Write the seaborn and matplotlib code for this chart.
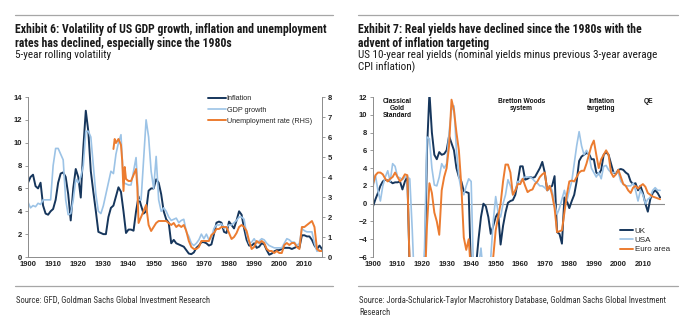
import numpy as np
import pandas as pd
import seaborn as sns
import matplotlib.pyplot as plt
from matplotlib.lines import Line2D

sns.set_style("white")
plt.rcParams['font.family'] = ['Liberation Sans', 'DejaVu Sans']

NAVY = "#16365c"
LIGHT = "#9cc3e6"
ORANGE = "#ec7c30"
GREY = "#8c8c8c"

years = list(range(1900, 2018))

# 5-year rolling volatility, LHS
inflation = [6.5, 7.0, 7.2, 6.2, 6.0, 6.5, 4.5, 3.8, 3.7, 4.0,
             4.2, 5.0, 6.5, 7.3, 7.4, 7.0, 5.5, 3.2, 6.0, 7.7,
             7.0, 5.2, 9.5, 12.8, 11.0, 7.5, 5.7, 4.0, 2.2, 2.1,
             2.0, 2.0, 3.5, 4.3, 4.5, 5.3, 6.1, 5.7, 4.0, 2.1,
             2.4, 2.4, 2.3, 4.0, 5.3, 4.5, 3.8, 4.0, 5.8, 6.0,
             6.0, 6.8, 6.5, 5.5, 4.0, 3.3, 3.0, 1.2, 1.5, 1.2,
             1.1, 1.0, 0.9, 0.6, 0.3, 0.25, 0.4, 0.8, 1.0, 1.3,
             1.3, 1.2, 1.0, 1.1, 2.0, 3.0, 3.1, 3.0, 2.2, 2.1,
             3.1, 2.8, 2.5, 3.2, 4.0, 3.7, 2.5, 1.5, 1.0, 1.0,
             1.2, 0.8, 0.9, 1.2, 1.1, 0.6, 0.2, 0.3, 0.5, 0.6,
             0.6, 0.7, 0.8, 0.8, 0.8, 0.7, 0.8, 0.9, 0.8, 1.9,
             1.9, 1.8, 1.8, 1.5, 1.0, 0.7, 1.0, 0.7]

gdp_growth = [4.8, 4.3, 4.5, 4.4, 4.7, 4.6, 5.0, 5.0, 5.0, 5.0,
              8.0, 9.5, 9.5, 9.0, 8.5, 5.0, 3.7, 3.8, 5.0, 6.8,
              6.5, 7.0, 8.0, 11.0, 11.0, 10.5, 8.0, 5.5, 4.0, 3.8,
              4.5, 5.5, 6.5, 7.5, 7.3, 9.0, 10.0, 10.7, 6.5, 6.4,
              6.3, 6.3, 7.5, 8.7, 5.0, 5.0, 8.5, 12.0, 10.5, 7.5,
              6.0, 8.8, 5.0, 4.0, 4.3, 4.0, 3.5, 3.2, 3.3, 3.4,
              3.0, 3.2, 3.3, 2.2, 1.8, 1.2, 1.0, 1.2, 1.5, 2.0,
              1.6, 2.0, 1.5, 1.7, 2.5, 2.8, 2.8, 2.9, 2.5, 2.6,
              2.8, 2.8, 3.0, 3.2, 3.5, 3.5, 3.3, 2.0, 1.2, 1.3,
              1.6, 1.2, 1.4, 1.6, 1.5, 1.2, 1.0, 0.9, 0.8, 0.8,
              0.8, 0.8, 1.2, 1.6, 1.5, 1.3, 1.3, 1.0, 1.2, 2.5,
              2.3, 2.2, 2.2, 2.2, 1.2, 0.5, 0.6, 0.5]

# unemployment rate volatility, RHS
unemp_years = [1934, 1934.5, 1935, 1936, 1937, 1937.5, 1938, 1938.5, 1939, 1940,
               1941, 1942, 1943, 1943.5, 1944, 1945, 1946, 1947, 1948, 1949,
               1950, 1951, 1952, 1953, 1954, 1955, 1956, 1957, 1958, 1959,
               1960, 1961, 1962, 1963, 1964, 1965, 1966, 1967, 1968, 1969,
               1970, 1971, 1972, 1973, 1974, 1975, 1976, 1977, 1978, 1979,
               1980, 1981, 1982, 1983, 1984, 1985, 1986, 1987, 1988, 1989,
               1990, 1991, 1992, 1993, 1994, 1995, 1996, 1997, 1998, 1999,
               2000, 2001, 2002, 2003, 2004, 2005, 2006, 2007, 2008, 2009,
               2010, 2011, 2012, 2013, 2014, 2015, 2016, 2017]
unemployment = [5.4, 5.9, 5.7, 5.9, 5.6, 4.8, 3.3, 4.5, 3.9, 3.8,
                3.8, 4.1, 4.4, 3.5, 1.7, 2.0, 2.3, 2.6, 1.6, 1.3,
                1.5, 1.7, 1.8, 1.8, 1.8, 1.8, 1.7, 1.6, 1.7, 1.5,
                1.6, 1.5, 1.6, 1.3, 0.8, 0.5, 0.4, 0.4, 0.5, 0.8,
                0.8, 0.8, 0.8, 1.1, 1.2, 1.4, 1.4, 1.5, 1.5, 1.5,
                1.2, 0.9, 1.0, 1.2, 1.5, 1.6, 1.5, 1.3, 0.8, 0.4,
                0.5, 0.8, 0.7, 0.8, 0.7, 0.4, 0.3, 0.3, 0.2, 0.3,
                0.2, 0.2, 0.6, 0.7, 0.6, 0.7, 0.7, 0.5, 0.4, 1.5,
                1.5, 1.6, 1.7, 1.8, 1.5, 0.4, 0.3, 0.3]

# 10-year real yields (%)
uk = [-0.3, 0.5, 1.2, 2.0, 2.5, 2.7, 2.6, 2.5, 2.3, 2.4,
      2.4, 2.5, 1.6, 2.5, 3.0, -8.0, -10.0, -10.0, -10.0, -10.0,
      -10.0, -9.0, 6.0, 12.5, 8.0, 5.5, 5.0, 5.8, 5.5, 5.6,
      6.0, 7.6, 6.8, 6.0, 4.0, 3.0, 2.5, 1.4, 1.3, 1.2,
      -8.0, -10.0, -7.0, -4.0, -1.5, 0.0, -0.3, -1.5, -3.4, -2.5,
      -1.5, -1.0, -4.6, -2.5, -1.0, 0.1, 0.3, 0.4, 1.0, 2.5,
      4.2, 4.2, 2.7, 2.8, 3.0, 2.9, 3.0, 3.5, 4.0, 4.7,
      3.5, 1.5, 1.8, 2.0, 3.1, -3.2, -3.4, -4.5, 0.7, 0.3,
      -0.5, 0.3, 1.0, 2.5, 4.8, 5.3, 5.5, 5.7, 5.6, 5.0,
      5.0, 3.5, 3.3, 3.8, 5.5, 5.8, 5.5, 4.5, 3.5, 3.4,
      3.8, 3.9, 3.8, 3.5, 3.3, 2.5, 2.2, 2.3, 1.5, 2.0,
      1.2, 0.0, -0.9, 0.5, 1.2, 1.5, 1.2, 0.7]

usa = [1.9, 3.2, 1.5, 0.3, 2.0, 3.0, 3.7, 2.5, 4.5, 4.2,
       3.0, 2.9, 2.7, 3.0, 3.0, 2.8, -3.0, -10.0, -10.0, -10.0,
       -10.0, -5.0, 7.5, 7.3, 4.0, 2.1, 2.0, 3.0, 4.5, 4.0,
       4.5, 8.0, 10.5, 11.0, 6.0, 3.0, 1.5, 1.0, 2.0, 2.8,
       2.5, -8.0, -10.0, -7.0, -5.0, -8.0, -10.0, -10.0, -6.0, -2.0,
       0.8, -1.0, -1.5, 0.0, 1.0, 2.7, 2.0, 1.0, 1.5, 2.5,
       2.5, 2.8, 3.0, 3.0, 3.0, 2.8, 2.5, 2.3, 2.0, 2.0,
       1.8, 1.5, 2.0, 1.5, 0.0, -1.2, -0.5, 0.5, 1.5, 0.3,
       1.5, 2.5, 4.5, 6.5, 8.1, 6.5, 5.5, 6.0, 5.5, 4.0,
       3.5, 3.0, 3.5, 2.8, 4.2, 4.3, 3.8, 3.5, 3.5, 3.5,
       3.5, 2.5, 2.2, 2.0, 2.0, 2.0, 2.3, 1.5, 0.3, 1.5,
       1.0, 0.0, 0.5, 0.7, 1.5, 1.8, 1.5, 1.5]

euro_area = [2.2, 3.2, 3.5, 3.5, 3.3, 2.8, 2.5, 2.8, 3.0, 3.5,
             3.0, 2.5, 2.8, 3.3, 3.2, -8.0, -10.0, -10.0, -10.0, -10.0,
             -10.0, -10.0, -2.5, 2.3, 1.2, -1.0, -2.0, -3.5, 1.5, 3.0,
             4.0, 6.5, 11.7, 10.5, 8.0, 6.0, 2.0, -3.8, -5.2, -4.0,
             -8.0, -10.0, -10.0, -10.0, -10.0, -10.0, -10.0, -10.0, -10.0, -6.0,
             -3.0, -1.5, 0.0, 2.5, 4.4, 4.4, 3.5, 1.0, 1.5, 2.2,
             2.2, 2.8, 2.0, 1.3, 1.5, 1.6, 2.2, 2.5, 3.0, 3.3,
             3.5, 1.5, 2.0, 1.0, -0.5, -3.2, -3.1, -3.0, -1.0, 1.0,
             2.5, 2.6, 2.5, 3.0, 3.5, 3.7, 3.7, 4.5, 5.5, 6.5,
             7.1, 5.5, 4.0, 5.0, 5.5, 6.0, 5.5, 3.5, 3.0, 3.3,
             3.8, 3.0, 2.2, 2.0, 1.5, 1.2, 1.8, 2.0, 1.7, 2.0,
             2.2, 1.9, 1.2, 1.0, 0.8, 0.7, 0.6, 0.5]

decades = list(range(1900, 2011, 10))

W, H = 693, 322
fig = plt.figure(figsize=(W / 100, H / 100), dpi=100)


def fx(x):
    return x / W


def fy(y):
    return 1 - y / H


def style_axis(ax, color=GREY):
    ax.tick_params(axis='both', which='major', length=2.5, width=0.6,
                   color=color, pad=1.5, labelsize=5.5)
    for lab in ax.get_xticklabels() + ax.get_yticklabels():
        lab.set_fontweight('bold')
        lab.set_color('#222222')
    ax.set_xlabel('')
    ax.set_ylabel('')


# ---- left panel: volatility ----
ax1 = fig.add_axes([fx(28), fy(257), fx(322 - 28), 160 / H])
sns.lineplot(x=years, y=inflation, ax=ax1, color=NAVY, linewidth=1.4)
sns.lineplot(x=years, y=gdp_growth, ax=ax1, color=LIGHT, linewidth=1.2)
ax2 = ax1.twinx()
sns.lineplot(x=unemp_years, y=unemployment, ax=ax2, color=ORANGE, linewidth=1.4)
ax1.set_xlim(1900, 2017)
ax1.set_ylim(0, 14)
ax2.set_ylim(0, 8)
ax1.set_xticks(decades)
ax1.set_yticks(range(0, 15, 2))
ax2.set_yticks(range(0, 9))
for ax in (ax1, ax2):
    ax.spines['top'].set_visible(False)
    for s in ('left', 'right', 'bottom'):
        ax.spines[s].set_color(GREY)
        ax.spines[s].set_linewidth(0.7)
ax1.spines['right'].set_visible(False)
ax2.spines['left'].set_visible(False)
ax2.spines['bottom'].set_visible(False)
ax1.tick_params(axis='y', direction='out', left=True)
ax2.tick_params(axis='y', direction='out', right=True)
style_axis(ax1)
style_axis(ax2)
ax1.tick_params(axis='x', length=0, pad=3)

handles = [Line2D([], [], color=NAVY, lw=1.4),
           Line2D([], [], color=LIGHT, lw=1.2),
           Line2D([], [], color=ORANGE, lw=1.4)]
ax1.legend(handles, ['Inflation', 'GDP growth', 'Unemployment rate (RHS)'],
           loc='upper left', bbox_to_anchor=((205 - 28) / 294, 1.03),
           frameon=False, fontsize=5.2, handlelength=2.5, handletextpad=0.1,
           labelspacing=0.6, borderaxespad=0)

# ---- right panel: real yields ----
ax3 = fig.add_axes([fx(373), fy(257), fx(665 - 373), 160 / H])
sns.lineplot(x=years, y=uk, ax=ax3, color=NAVY, linewidth=1.4)
sns.lineplot(x=years, y=usa, ax=ax3, color=LIGHT, linewidth=1.2)
sns.lineplot(x=years, y=euro_area, ax=ax3, color=ORANGE, linewidth=1.4)
ax3.set_xlim(1900, 2019)
ax3.set_ylim(-6, 12)
ax3.set_xticks(decades)
ax3.set_yticks(range(-6, 13, 2))
ax3.axhline(0, color=GREY, lw=0.8, zorder=0)
for s in ('top', 'right', 'bottom'):
    ax3.spines[s].set_visible(False)
ax3.spines['left'].set_color(GREY)
ax3.spines['left'].set_linewidth(0.7)
ax3.tick_params(axis='y', direction='out', left=True)
style_axis(ax3)
ax3.tick_params(axis='x', length=0, pad=3)

ax3.legend(handles, ['UK', 'USA', 'Euro area'], loc='upper left',
           bbox_to_anchor=((617 - 373) / 292, (257 - 224) / 160),
           frameon=False, fontsize=5.8, handlelength=1.6, handletextpad=0.2,
           labelspacing=0.2, borderaxespad=0)

era_labels = [(1910, 'Classical\nGold\nStandard'), (1960.5, 'Bretton Woods\nsystem'),
              (1993, 'Inflation\ntargeting'), (2012.5, 'QE')]
for yr, txt in era_labels:
    ax3.text(yr, 11.9, txt, ha='center', va='top', fontsize=4.8,
             fontweight='bold', linespacing=1.0, color='#111111')

# ---- titles, rules and sources ----
for x0, x1 in ((15, 333), (358, 678)):
    fig.add_artist(Line2D([fx(x0), fx(x1)], [fy(15), fy(15)], color='#a6a6a6', lw=0.9))
    fig.add_artist(Line2D([fx(x0), fx(x1)], [fy(286), fy(286)], color='#a6a6a6', lw=0.9))

cond = ['Roboto Condensed', 'DejaVu Sans']
tfont = dict(family=cond, fontweight='bold', fontsize=8.5, color='#1a1a1a')
sfont = dict(family=cond, fontsize=8.0, color='#1a1a1a')
srcfont = dict(family=cond, fontsize=6.2, color='#333333')

fig.text(fx(15), fy(33), 'Exhibit 6: Volatility of US GDP growth, inflation and unemployment', **tfont)
fig.text(fx(15), fy(47), 'rates has declined, especially since the 1980s', **tfont)
fig.text(fx(15), fy(58), '5-year rolling volatility', **sfont)

fig.text(fx(358), fy(33), 'Exhibit 7: Real yields have declined since the 1980s with the', **tfont)
fig.text(fx(358), fy(47), 'advent of inflation targeting', **tfont)
fig.text(fx(358), fy(58), 'US 10-year real yields (nominal yields minus previous 3-year average', **sfont)
fig.text(fx(358), fy(70), 'CPI inflation)', **sfont)

fig.text(fx(16), fy(303), 'Source: GFD, Goldman Sachs Global Investment Research', **srcfont)
fig.text(fx(359), fy(303), 'Source: Jorda-Schularick-Taylor Macrohistory Database, Goldman Sachs Global Investment', **srcfont)
fig.text(fx(359), fy(315), 'Research', **srcfont)

fig.savefig('out.png', dpi=100)
